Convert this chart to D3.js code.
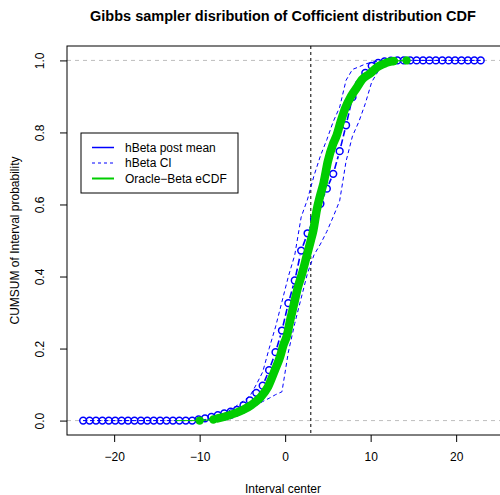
<!DOCTYPE html>
<html>
<head>
<meta charset="utf-8">
<title>Gibbs sampler CDF</title>
<script src="https://cdn.jsdelivr.net/npm/d3@7"></script>
<style>
  body { margin: 0; background: #fff; }
  text { font-family: "Liberation Sans", Arial, sans-serif; fill: #000; }
</style>
</head>
<body>
<svg id="chart" width="500" height="495"></svg>
<script>
// interval centers (width 0.75 between -24 and 24)
var centers = d3.range(64).map(function(k) { return -23.625 + 0.75 * k; });

// posterior mean CDF at each center
var postMean = [
  0,0,0,0,0,0,0,0,0,0,0,0,0,0,0,0,0,0,          // -23.625 .. -10.875
  0.003,0.006,0.010,0.015,0.020,0.025,0.030,    // -10.125 .. -5.625
  0.042,0.056,0.077,0.097,0.140,0.190,0.250,    // -4.875 .. -0.375
  0.326,0.389,0.472,0.520,0.560,0.602,0.644,    // 0.375 .. 4.875
  0.685,0.748,0.820,0.898,0.935,0.965,0.985,    // 5.625 .. 10.125
  0.993,0.997,0.999,1,1,1,1,1,1,1,1,1,1,1,1,1,1 // 10.875 .. 23.625
];

// upper / lower credible band
var ciUpper = [
  0,0,0,0,0,0,0,0,0,0,0,0,0,0,0,0,0,0,
  0.000,0.003,0.006,0.012,0.020,0.030,0.042,
  0.055,0.068,0.100,0.135,0.200,0.260,0.330,
  0.400,0.460,0.565,0.615,0.680,0.735,0.780,
  0.830,0.870,0.945,0.975,0.982,0.990,0.995,
  0.998,1,1,1,1,1,1,1,1,1,1,1,1,1,1,1,1
];
var ciLower = [
  0,0,0,0,0,0,0,0,0,0,0,0,0,0,0,0,0,0,
  0,0,0,0,0.001,0.005,0.012,
  0.020,0.030,0.042,0.053,0.062,0.072,0.080,
  0.190,0.270,0.340,0.410,0.460,0.490,0.525,
  0.566,0.610,0.720,0.790,0.830,0.880,0.940,
  0.970,0.988,0.995,0.998,1,1,1,1,1,1,1,1,1,1,1,1,1
];

// oracle beta empirical CDF (x, F)
var oracleX = [-10, -8.4, -7.9, -6.9, -5.9, -4.9, -3.9, -2.8, -2.0, -1.2, -0.6, -0.2, 0.2, 0.6,
  1.0, 1.5, 2.0, 2.5, 3.0, 3.3, 3.7, 4.1, 4.5, 5.0, 5.6, 6.0, 6.5, 7.0, 7.7, 8.4, 9.0,
  9.9, 10.7, 11.5, 12.0, 12.7, 14.2];
var oracleF = [0, 0.003, 0.006, 0.012, 0.020, 0.030, 0.044, 0.067, 0.094, 0.140, 0.177, 0.210, 0.235, 0.280,
  0.320, 0.371, 0.410, 0.455, 0.500, 0.529, 0.585, 0.625, 0.660, 0.720, 0.768, 0.790, 0.830, 0.866, 0.900, 0.925, 0.947,
  0.963, 0.980, 0.990, 0.995, 0.998, 1.0];

var xTicks = [-20, -10, 0, 10, 20];
var yTicks = [0, 0.2, 0.4, 0.6, 0.8, 1.0];
var vline = 3;

function draw() {
  var svg = d3.select("#chart");
  var pLeft = 67, pRight = 503.3, pTop = 46, pBottom = 435;

  var x = d3.scaleLinear().domain([-25.515, 25.515]).range([pLeft, pRight]);
  var y = d3.scaleLinear().domain([-0.04, 1.04]).range([pBottom, pTop]);

  var blue = "#0000FF", green = "#00CD00";

  // title
  svg.append("text")
    .attr("x", 283).attr("y", 21)
    .attr("text-anchor", "middle")
    .style("font-size", "14.5px").style("font-weight", "bold")
    .text("Gibbs sampler disribution of Cofficient distribution CDF");

  // reference lines
  [0, 1].forEach(function(v) {
    svg.append("line")
      .attr("x1", pLeft).attr("x2", pRight)
      .attr("y1", y(v)).attr("y2", y(v))
      .attr("stroke", "#bebebe").attr("stroke-dasharray", "4,4");
  });
  svg.append("line")
    .attr("x1", x(vline)).attr("x2", x(vline))
    .attr("y1", pTop).attr("y2", pBottom)
    .attr("stroke", "#000").attr("stroke-dasharray", "3,3");

  // CI lines
  var ciLine = d3.line()
    .x(function(d, i) { return x(centers[i]); })
    .y(function(d) { return y(d); });
  [ciUpper, ciLower].forEach(function(arr) {
    svg.append("path")
      .attr("d", ciLine(arr))
      .attr("fill", "none").attr("stroke", blue)
      .attr("stroke-width", 1).attr("stroke-dasharray", "4,3");
  });

  // posterior mean: points joined by segments with gaps (type "b")
  var r = 3.4, gap = 1.8;
  for (var i = 0; i < centers.length - 1; i++) {
    var x0 = x(centers[i]), y0 = y(postMean[i]);
    var x1 = x(centers[i + 1]), y1 = y(postMean[i + 1]);
    var dx = x1 - x0, dy = y1 - y0, len = Math.sqrt(dx * dx + dy * dy);
    var cut = r + gap;
    if (len > 2 * cut) {
      svg.append("line")
        .attr("x1", x0 + dx * cut / len).attr("y1", y0 + dy * cut / len)
        .attr("x2", x1 - dx * cut / len).attr("y2", y1 - dy * cut / len)
        .attr("stroke", blue).attr("stroke-width", 1.6)
        .attr("stroke-dasharray", "7,3");
    }
  }
  svg.append("g").selectAll("circle")
    .data(postMean)
    .enter().append("circle")
      .attr("cx", function(d, i) { return x(centers[i]); })
      .attr("cy", function(d) { return y(d); })
      .attr("r", r)
      .attr("fill", "none").attr("stroke", blue).attr("stroke-width", 1.5);

  // oracle eCDF
  var greenPts = oracleX.map(function(v, i) { return [v, oracleF[i]]; });
  var gl = d3.line().x(function(d) { return x(d[0]); }).y(function(d) { return y(d[1]); });
  svg.append("line")
    .attr("x1", x(-12.8)).attr("x2", x(-10))
    .attr("y1", y(0)).attr("y2", y(0))
    .attr("stroke", green).attr("stroke-width", 1);
  svg.append("path")
    .attr("d", gl(greenPts.slice(0, 3)))
    .attr("fill", "none").attr("stroke", green).attr("stroke-width", 1.2);
  svg.append("path")
    .attr("d", gl.curve(d3.curveMonotoneX)(greenPts.slice(2, greenPts.length - 1)))
    .attr("fill", "none").attr("stroke", green).attr("stroke-width", 8.5)
    .attr("stroke-linecap", "round").attr("stroke-linejoin", "round");
  svg.append("path")
    .attr("d", gl.curve(d3.curveLinear)(greenPts.slice(greenPts.length - 2)))
    .attr("fill", "none").attr("stroke", green).attr("stroke-width", 1.2);
  svg.append("g").selectAll("circle")
    .data([greenPts[0], greenPts[1], greenPts[greenPts.length - 2], greenPts[greenPts.length - 1]])
    .enter().append("circle")
      .attr("cx", function(d) { return x(d[0]); })
      .attr("cy", function(d) { return y(d[1]); })
      .attr("r", 4.2).attr("fill", green);

  // axes
  var xAxis = svg.append("g")
    .attr("transform", "translate(0," + pBottom + ")")
    .call(d3.axisBottom(x).tickValues(xTicks).tickSize(7).tickPadding(10)
      .tickFormat(function(d) { return String(d).replace("-", "\u2212"); }));
  xAxis.select(".domain").remove();
  xAxis.selectAll("text").style("font-size", "12px").attr("fill", "#000");

  var yAxis = svg.append("g")
    .attr("transform", "translate(" + pLeft + ",0)")
    .call(d3.axisLeft(y).tickValues(yTicks).tickSize(7).tickFormat(d3.format(".1f")));
  yAxis.select(".domain").remove();
  yAxis.selectAll("text")
    .style("font-size", "12px").attr("fill", "#000")
    .attr("text-anchor", "middle")
    .attr("x", 0).attr("dy", null)
    .attr("y", 0)
    .attr("transform", "translate(-23,0) rotate(-90)");

  // box
  svg.append("rect")
    .attr("x", pLeft).attr("y", pTop)
    .attr("width", pRight - pLeft).attr("height", pBottom - pTop)
    .attr("fill", "none").attr("stroke", "#000").attr("stroke-width", 1);

  // axis titles
  svg.append("text")
    .attr("x", 283).attr("y", 493)
    .attr("text-anchor", "middle").style("font-size", "12px")
    .text("Interval center");
  svg.append("text")
    .attr("transform", "translate(19," + (pTop + pBottom) / 2 + ") rotate(-90)")
    .attr("text-anchor", "middle").style("font-size", "12px")
    .text("CUMSUM of Interval probability");

  // legend
  var lg = svg.append("g");
  lg.append("rect")
    .attr("x", 81).attr("y", 133).attr("width", 157).attr("height", 60)
    .attr("fill", "#fff").attr("stroke", "#000");
  var legendItems = [
    { label: "hBeta post mean", color: blue, dash: null, w: 1.5 },
    { label: "hBeta CI", color: blue, dash: "3,3", w: 1 },
    { label: "Oracle\u2212Beta eCDF", color: green, dash: null, w: 2 }
  ];
  legendItems.forEach(function(it, i) {
    var ly = 147.5 + i * 15.5;
    lg.append("line")
      .attr("x1", 92).attr("x2", 114).attr("y1", ly).attr("y2", ly)
      .attr("stroke", it.color).attr("stroke-width", it.w)
      .attr("stroke-dasharray", it.dash);
    lg.append("text")
      .attr("x", 125).attr("y", ly + 4.3)
      .style("font-size", "12px")
      .text(it.label);
  });
}
draw();
</script>
</body>
</html>
